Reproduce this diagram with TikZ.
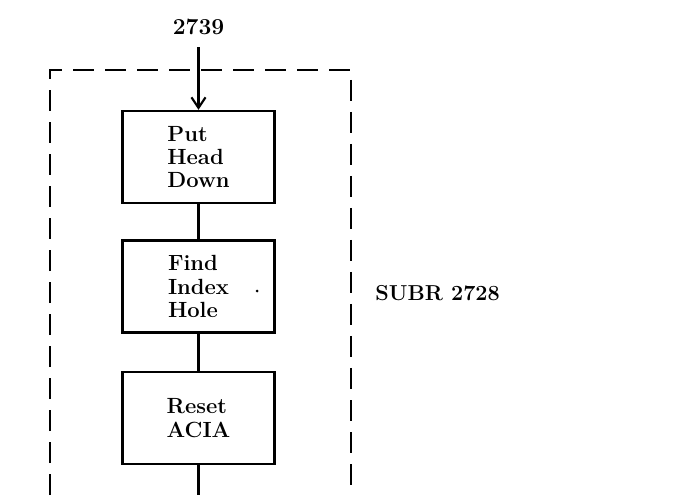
\documentclass[tikz,border=0pt]{standalone}
\usetikzlibrary{arrows.meta}
\begin{document}
\begin{tikzpicture}[
  stepbox/.style={draw, line width=1.4pt, minimum width=3.04cm, minimum height=1.84cm,
    align=left, font=\fontsize{12.5}{13.2}\selectfont\bfseries},
  frame/.style={line width=1.6pt, dash pattern=on 0.42cm off 0.22cm},
  link/.style={line width=1.2pt},
  label/.style={font=\fontsize{12.3}{13}\selectfont\bfseries}
]
  \useasboundingbox (0,0) rectangle (13.46,9.9);
  % dashed subroutine frame, open at the bottom
  \draw[frame] (1.0,0) -- (1.0,8.5) -- (7.02,8.5) -- (7.02,0);
  % entry point
  \node[label, font=\fontsize{13}{14}\selectfont\bfseries, inner sep=0pt] (entry) at (3.97,9.36) {2739};
  % steps of the subroutine
  \node[stepbox] (head) at (3.97,6.76) {Put\\Head\\Down};
  \node[stepbox] (index) at (3.97,4.17) {Find\\Index\\Hole};
  \node[stepbox] (acia) at (3.97,1.54) {Reset\\ACIA};
  \coordinate (exit) at (3.97,0);
  % stray dot
  \fill (5.14,4.08) circle (0.03);
  % connectors
  \draw[link, -{Straight Barb[length=6pt,width=8pt]}, shorten <=0.24cm] (entry.south) -- (head.north);
  \draw[link] (head) -- (index);
  \draw[link] (index) -- (acia);
  \draw[link] (acia) -- (exit);
  % subroutine name
  \node[label, anchor=west, inner sep=0pt] (subr) at (7.5,4.04) {SUBR 2728};
\end{tikzpicture}
\end{document}
